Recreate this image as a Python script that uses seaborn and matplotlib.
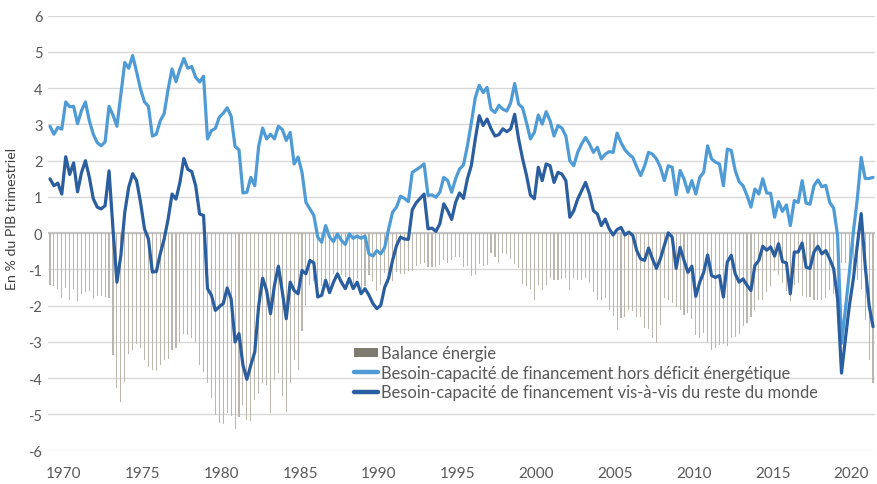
import numpy as np
import pandas as pd
import matplotlib
matplotlib.use("Agg")
import matplotlib.pyplot as plt
import seaborn as sns
from matplotlib.patches import Patch
from matplotlib.lines import Line2D

# quarterly series, 1969Q1 .. 2021Q2 (% of quarterly GDP)
quarters = pd.period_range("1969Q1", "2021Q2", freq="Q")

hors_energie = [
    2.95, 2.73, 2.92, 2.87, 3.62, 3.49, 3.5, 3.02, 3.38, 3.62, 3.1, 2.73, 2.5, 2.41, 2.52, 3.5, 3.26, 2.95, 3.84, 4.71,
    4.55, 4.9, 4.45, 3.97, 3.62, 3.5, 2.68, 2.73, 3.1, 3.3, 3.97, 4.53, 4.18, 4.53, 4.82, 4.55, 4.6,
    4.3, 4.17, 4.33, 2.6, 2.83, 2.89, 3.2, 3.31, 3.46, 3.23, 2.39, 2.3, 1.11, 1.13, 1.54, 1.31, 2.4, 2.9, 2.6, 2.73,
    2.6, 2.95, 2.86, 2.56, 2.78, 1.91, 2.1, 1.68, 0.85, 0.67, 0.49, -0.11, -0.25, 0.21, -0.11, -0.23, -0.02,
    -0.2, -0.31, -0.02, -0.14, -0.08, -0.14, -0.08, -0.57, -0.63, -0.48, -0.57, -0.39, 0.12, 0.58, 0.72, 1.02, 0.96,
    0.87, 1.68, 1.75, 1.82, 1.91, 1.04, 1.06, 0.99, 1.13, 1.54, 1.45, 1.13, 1.5, 1.77, 1.88, 2.41, 3.05, 3.74, 4.08, 3.88,
    4.02, 3.42, 3.33, 3.53, 3.42, 3.37, 3.6, 4.13, 3.56, 3.46, 3.05, 2.6, 2.78, 3.26, 3.01, 3.35, 3.1, 2.68, 2.97, 2.9,
    2.68, 2.0, 1.86, 2.23, 2.46, 2.64, 2.46, 2.23, 2.37, 2.05, 2.18, 2.25, 2.23, 2.76, 2.5, 2.3,
    2.18, 2.09, 1.82, 1.59, 1.86, 2.23, 2.18, 2.05, 1.82, 1.45, 1.86, 1.82, 1.06, 1.73, 1.5, 1.13, 1.45, 1.08, 1.54,
    1.68, 2.41, 2.05, 1.96, 1.91, 1.31, 2.32, 2.28, 1.73, 1.42, 1.31, 1.04, 0.72, 1.22, 1.08, 1.5, 1.11, 1.1, 0.44,
    0.87, 0.6, 0.78, 0.21, 0.9, 0.85, 1.45, 0.83, 0.8, 1.31, 1.47, 1.28, 1.32, 0.85, 0.69, -0.06, -3.04, -2.08, -1.07,
    0.03, 0.94, 2.09, 1.51, 1.51, 1.54,
]

reste_monde = [
    1.5, 1.31, 1.38, 1.08, 2.11, 1.62, 1.94, 1.14, 1.67, 2.0, 1.54, 0.95, 0.72, 0.67, 0.76, 1.72, 0.12, -1.35, -0.61,
    0.58, 1.27, 1.64, 1.45, 0.85, 0.12, -0.16, -1.07, -1.06, -0.57, -0.16, 0.39, 1.08, 0.94, 1.4, 2.06, 1.76, 1.7,
    1.31, 0.53, 0.49, -1.53, -1.71, -2.13, -2.03, -1.94, -1.51, -1.81, -3.0, -2.77, -3.64, -4.03, -3.64, -3.28, -2.0,
    -1.24, -1.58, -2.22, -1.44, -0.91, -1.62, -2.36, -1.35, -1.58, -1.67, -1.03, -1.12, -0.75, -0.82, -1.76, -1.71,
    -1.3, -1.64, -1.35, -1.12,
    -1.35, -1.53, -1.25, -1.53, -1.35, -1.67, -1.53, -1.71, -1.94, -2.08, -1.99, -1.49, -1.24, -0.75, -0.34, -0.11,
    -0.16, -0.17, 0.65, 0.84, 0.96, 1.08, 0.12, 0.14, 0.05, 0.26, 0.81, 0.62, 0.38, 0.85, 1.11, 0.96, 1.5, 1.87, 2.6,
    3.24, 2.97,
    3.15, 2.88, 2.68, 2.72, 2.88, 2.8, 2.88, 3.28, 2.6, 2.06, 1.6, 1.05, 0.95, 1.82, 1.45, 1.91, 1.86, 1.4, 1.68, 1.63,
    1.45, 0.44, 0.62, 0.94, 1.17, 1.4, 1.08, 0.62, 0.53, 0.21, 0.39, 0.12, -0.05, 0.1, 0.16, -0.05,
    0.03, -0.06, -0.48, -0.71, -0.75, -0.41, -0.71, -0.97, -0.71, -0.34, 0.01, -0.11, -0.97, -0.39, -0.75, -1.08,
    -0.91, -1.74, -1.35, -1.08, -0.6, -1.17, -1.22, -1.17, -1.76, -0.79, -0.61, -1.12, -1.35, -1.26, -1.44, -1.58,
    -0.89, -0.75, -0.36, -0.47, -0.38, -0.63,
    -0.29, -0.78, -0.82, -1.67, -0.52, -0.52, -0.27, -0.94, -0.97, -0.52, -0.36, -0.57, -0.48, -0.71, -0.98, -1.81,
    -3.86, -2.9, -1.99, -1.26, -0.34, 0.54, -0.89, -1.99, -2.58,
]

balance_energie = [
    -1.44, -1.46, -1.53, -1.79, -1.51, -1.85, -1.55, -1.88, -1.67, -1.62, -1.6, -1.81, -1.73, -1.74, -1.76, -1.8,
    -3.37, -4.28, -4.65, -4.1, -3.32, -3.23, -3.05, -3.18, -3.5, -3.69, -3.78, -3.81, -3.64, -3.5, -3.46, -3.23,
    -3.18, -3.0, -2.77, -2.8, -2.9,
    -2.99, -3.64, -3.84, -4.13, -4.54, -5.02, -5.23, -5.25, -4.97, -5.04, -5.39, -5.07, -4.75, -5.16, -5.18, -4.59,
    -4.4, -4.14, -4.18, -4.95, -4.04, -3.86, -4.48, -4.92, -4.13, -3.49, -3.77, -2.71, -1.97, -1.42, -1.31, -1.65,
    -1.46, -1.51, -1.53, -1.12, -1.1,
    -1.15, -1.22, -1.23, -1.39, -1.27, -1.53, -1.45, -1.14, -1.31, -1.6, -1.42, -1.1, -1.36, -1.33, -1.06, -1.13,
    -1.12, -1.04, -1.03, -0.91, -0.86, -0.83, -0.92, -0.92, -0.94, -0.87, -0.73, -0.83, -0.75, -0.65, -0.66, -0.92,
    -0.91, -1.18, -1.14, -0.84, -0.91,
    -0.87, -0.54, -0.65, -0.81, -0.54, -0.57, -0.72, -0.85, -0.96, -1.4, -1.45, -1.55, -1.83, -1.44, -1.56, -1.44,
    -1.24, -1.28, -1.29, -1.27, -1.23, -1.56, -1.24, -1.29, -1.29, -1.24, -1.38, -1.61, -1.84, -1.84, -1.79, -2.13,
    -2.28, -2.66, -2.34, -2.32,
    -2.13, -2.15, -2.3, -2.3, -2.61, -2.64, -2.89, -3.02, -2.53, -1.79, -1.85, -1.93, -2.03, -2.12, -2.25, -2.21,
    -2.36, -2.82, -2.89, -2.76, -3.01, -3.22, -3.18, -3.08, -3.07, -3.11, -2.89, -2.85, -2.77, -2.57, -2.48, -2.3,
    -2.11, -1.83, -1.84, -1.63, -1.47, -1.05,
    -1.16, -1.38, -1.6, -1.88, -1.42, -1.37, -1.72, -1.77, -1.77, -1.83, -1.83, -1.85, -1.8, -1.56, -1.67, -1.75,
    -0.82, -0.82, -0.92, -1.29, -1.28, -1.55, -2.4, -3.5, -4.12,
]

year_ticks = list(range(1970, 2021, 5))

df = pd.DataFrame({
    "t": quarters.year + (quarters.quarter - 0.5) / 4,
    "energie": balance_energie,
    "hors": hors_energie,
    "monde": reste_monde,
})

light = "#4f9bd6"
dark = "#2b5e9f"
bar_col = "#bbb7ae"
txt = "#595959"

sns.set_theme(style="white")
plt.rcParams["font.family"] = ["Lato", "DejaVu Sans"]
plt.rcParams["axes.unicode_minus"] = False

fig = plt.figure(figsize=(8.78, 4.85), dpi=100)
ax = fig.add_axes([48 / 878, 1 - 451.7 / 485, 827 / 878, 435 / 485])

ax.bar(df["t"], df["energie"], width=0.07, color=bar_col, linewidth=0, zorder=2)
ax.axhline(0, color="#c4c4c4", lw=1.6, zorder=1.5)
sns.lineplot(data=df, x="t", y="hors", color=light, lw=2.3, ax=ax, zorder=3,
             solid_joinstyle="round", solid_capstyle="round")
sns.lineplot(data=df, x="t", y="monde", color=dark, lw=2.3, ax=ax, zorder=4,
             solid_joinstyle="round", solid_capstyle="round")

ax.set_xlim(1969.0, 2021.5)
ax.set_ylim(-6, 6)
ax.set_yticks(range(-6, 7))
ax.set_xticks(year_ticks)
ax.set_xticklabels([str(y) for y in year_ticks])
ax.grid(axis="y", color="#d9d9d9", lw=1.0, zorder=0)
ax.grid(axis="x", visible=False)
ax.set_axisbelow(True)
for s in ax.spines.values():
    s.set_visible(False)
ax.tick_params(axis="x", length=0, pad=11, labelsize=11, labelcolor=txt)
ax.tick_params(axis="y", length=0, pad=4, labelsize=10.5, labelcolor=txt)
ax.set_xlabel("")
ax.set_ylabel("")

fig.text(12 / 878, 1 - 219 / 485, "En % du PIB trimestriel", rotation=90,
         ha="center", va="center", fontsize=10.2, color="#404040")

handles = [
    Patch(facecolor="#7f7b6e", edgecolor="none"),
    Line2D([], [], color=light, lw=3.2),
    Line2D([], [], color=dark, lw=3.2),
]
labels = [
    "Balance énergie",
    "Besoin-capacité de financement hors déficit énergétique",
    "Besoin-capacité de financement vis-à-vis du reste du monde",
]
leg = fig.legend(handles, labels, loc="upper left", bbox_to_anchor=(354 / 878, 1 - 346 / 485),
                 frameon=False, fontsize=11.9, labelcolor=txt, handlelength=1.45,
                 handleheight=0.45, handletextpad=0.2, labelspacing=0.22,
                 borderpad=0, borderaxespad=0)

fig.savefig("out.png", dpi=100)
